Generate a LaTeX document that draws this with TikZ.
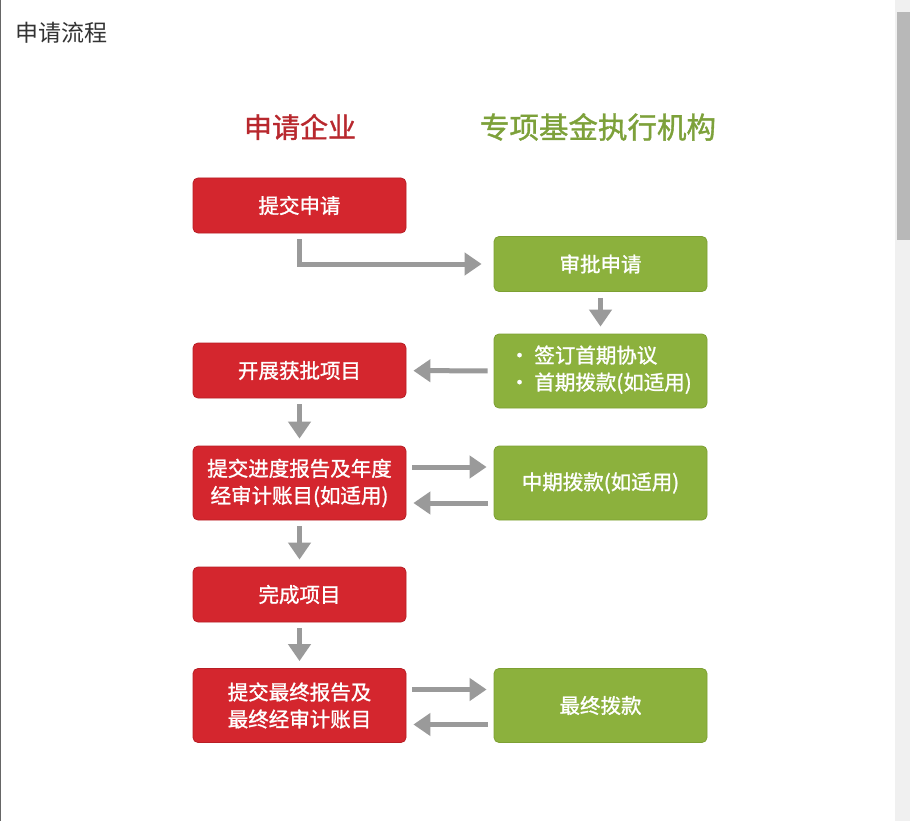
\documentclass[tikz,border=0pt]{standalone}
\usepackage{fontspec}
\setmainfont{Noto Sans CJK SC}
\newfontfamily\medfont[FakeBold=1.2]{Noto Sans CJK SC}
\usetikzlibrary{arrows.meta}
\definecolor{firmred}{HTML}{D4262E}
\definecolor{firmedge}{HTML}{B81E25}
\definecolor{headred}{HTML}{B8282E}
\definecolor{fundgreen}{HTML}{8CB13D}
\definecolor{fundedge}{HTML}{7DA033}
\definecolor{headgreen}{HTML}{7DA13A}
\definecolor{flowgray}{HTML}{9A9A9A}
\tikzset{
    >={Triangle[width=22pt,length=17pt]},
    chart/.style={
        firm/.append style={align=center,draw=firmedge,line width=0.8pt,fill=firmred,rounded corners=5pt,minimum width=213pt,minimum height=55pt,text=white,font=\fontsize{20.5}{27}\selectfont\medfont},
        fund/.append style={align=center,draw=fundedge,line width=0.8pt,fill=fundgreen,rounded corners=5pt,minimum width=213pt,minimum height=55pt,text=white,font=\fontsize{20.5}{27}\selectfont\medfont},
        tall/.append style={minimum height=74pt},
        head/.append style={font=\fontsize{28}{30}\selectfont\medfont},
        flow/.append style={->,draw=flowgray,line width=5pt,shorten <=6pt,shorten >=7pt}
    }
}

\begin{document}
\begin{tikzpicture}[chart,x=1pt,y=-1pt]
    \useasboundingbox (0,0) rectangle (910,821);
    % window frame
    \fill[white] (0,0) rectangle (910,821);
    \draw[black!60,line width=1pt] (0.5,0) -- (0.5,821);
    \fill[black!6] (895,0) rectangle (910,821);
    \fill[black!28] (897,12) rectangle (910,240);
    \node[anchor=west,text=black!80,font=\fontsize{23}{26}\selectfont] (title) at (12,33) {申请流程};
    % column heads
    \node[head,text=headred] (hf) at (300,127) {申请企业};
    \node[head,text=headgreen,font=\fontsize{29.5}{30}\selectfont\medfont] (hg) at (598,127) {专项基金执行机构};
    % applicant
    \node[firm] (b1) at (299.5,205.5) {提交申请};
    \node[firm] (b2) at (299.5,370.5) {开展获批项目};
    \node[firm,tall] (b3) at (299.5,483) {提交进度报告及年度\\经审计账目(如适用)};
    \node[firm] (b4) at (299.5,594.5) {完成项目};
    \node[firm,tall] (b5) at (299.5,705.5) {提交最终报告及\\最终经审计账目};
    % fund agency
    \node[fund] (g1) at (600.5,264) {审批申请};
    \node[fund,tall] (g2) at (600.5,371) {\begin{tabular}{@{}l@{}}• 签订首期协议\\• 首期拨款(如适用)\end{tabular}};
    \node[fund,tall] (g3) at (600.5,483) {中期拨款(如适用)};
    \node[fund,tall] (g4) at (600.5,705.5) {最终拨款};
    % arrows
    \draw[flow,shorten >=12pt] (b1.south) |- (g1.west);
    \draw[flow] (g1) -- (g2);
    \draw[flow] (g2) -- (b2);
    \draw[flow] (b2) -- (b3);
    \draw[flow] ([yshift=16pt]b3.east) -- ([yshift=16pt]g3.west);
    \draw[flow] ([yshift=-20pt]g3.west) -- ([yshift=-20pt]b3.east);
    \draw[flow] (b3) -- (b4);
    \draw[flow] (b4) -- (b5);
    \draw[flow] ([yshift=16pt]b5.east) -- ([yshift=16pt]g4.west);
    \draw[flow] ([yshift=-19pt]g4.west) -- ([yshift=-19pt]b5.east);
\end{tikzpicture}
\end{document}
